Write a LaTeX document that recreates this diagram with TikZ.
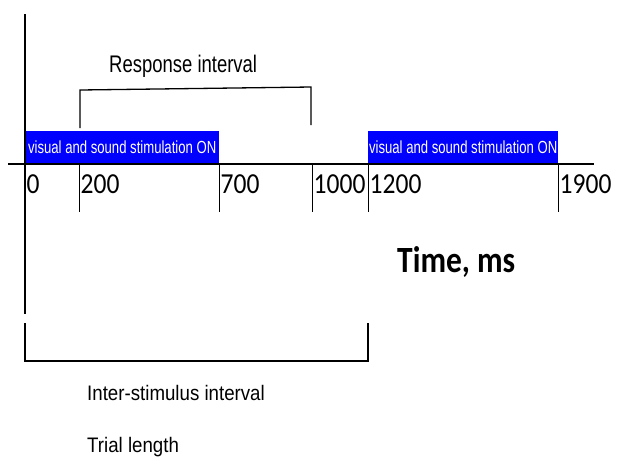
\documentclass[tikz,border=0pt]{standalone}
\usepackage{fontspec}
\setmainfont{Liberation Sans}
\newfontfamily\narrowfont[FakeStretch=0.77]{Liberation Sans}
\newfontfamily\stimfont[FakeStretch=0.75]{Liberation Sans}
\newfontfamily\isifont[FakeStretch=0.89]{Liberation Sans}
\newfontfamily\digitfont[FakeStretch=0.88]{Carlito}
\newfontfamily\timefont[FakeStretch=0.85]{Carlito}
\usepackage{tikz}
\usetikzlibrary{positioning}
\definecolor{stimblue}{RGB}{0,0,255}

\begin{document}
\begin{tikzpicture}[x=1pt,y=-1pt,
  axisline/.style={line width=2pt},
  bracketline/.style={line width=1.3pt},
  tickline/.style={line width=0.8pt},
  stimbox/.style={fill=stimblue,text=white,anchor=south west,minimum height=33pt,inner sep=0pt,
    font=\stimfont\fontsize{17.5}{20}\selectfont},
  ticklabel/.style={anchor=base west,inner sep=0pt,font=\digitfont\fontsize{29}{32}\selectfont},
  narrowlabel/.style={anchor=base west,inner sep=0pt,font=\isifont\fontsize{21}{24}\selectfont}]
  \useasboundingbox (0,0) rectangle (617,467);
  % ---- stimulation blocks ----
  \node[stimbox,minimum width=194pt] (stimA) at (25,164) {visual and sound stimulation ON};
  \node[stimbox,minimum width=190pt] (stimB) at (368,164) {visual and sound stimulation ON};
  % ---- axes ----
  \coordinate (ytop) at (25,14);
  \coordinate (ybot) at (25,314);
  \coordinate (xleft) at (8,164);
  \coordinate (xright) at (594,164);
  \draw[axisline] (ytop)--(ybot);
  \draw[axisline] (xleft)--(xright);
  % ticks and their values
  \foreach \t/\x in {0/25,200/79,700/219,1000/312,1200/368,1900/558}{
    \coordinate (tick\t) at (\x,164);
    \coordinate (tickend\t) at (\x,212);
    \draw[tickline] (tick\t)--(tickend\t);
    \node[ticklabel] (lab\t) at ({\x+1.5},193) {\t};
  }
  \node[anchor=base west,inner sep=0pt,font=\timefont\bfseries\fontsize{37}{40}\selectfont] (timelab) at (397,272) {Time, ms};
  % ---- response interval bracket ----
  \coordinate (respL) at (80,128);
  \coordinate (respLtop) at (80,90);
  \coordinate (respRtop) at (311,87);
  \coordinate (respR) at (311,125);
  \draw[bracketline] (respL)--(respLtop)--(respRtop)--(respR);
  \node[anchor=base west,inner sep=0pt,font=\narrowfont\fontsize{24}{27}\selectfont] (resplab) at (109,72) {Response interval};
  % ---- inter-stimulus interval bracket ----
  \coordinate (isiL) at (25,323);
  \coordinate (isiLbot) at (25,361);
  \coordinate (isiRbot) at (368,361);
  \coordinate (isiR) at (368,323);
  \draw[bracketline] (isiL)--(isiLbot)--(isiRbot)--(isiR);
  \node[narrowlabel] (isilab) at (87,400) {Inter-stimulus interval};
  \node[narrowlabel] (triallab) at (87,452) {Trial length};
\end{tikzpicture}
\end{document}
